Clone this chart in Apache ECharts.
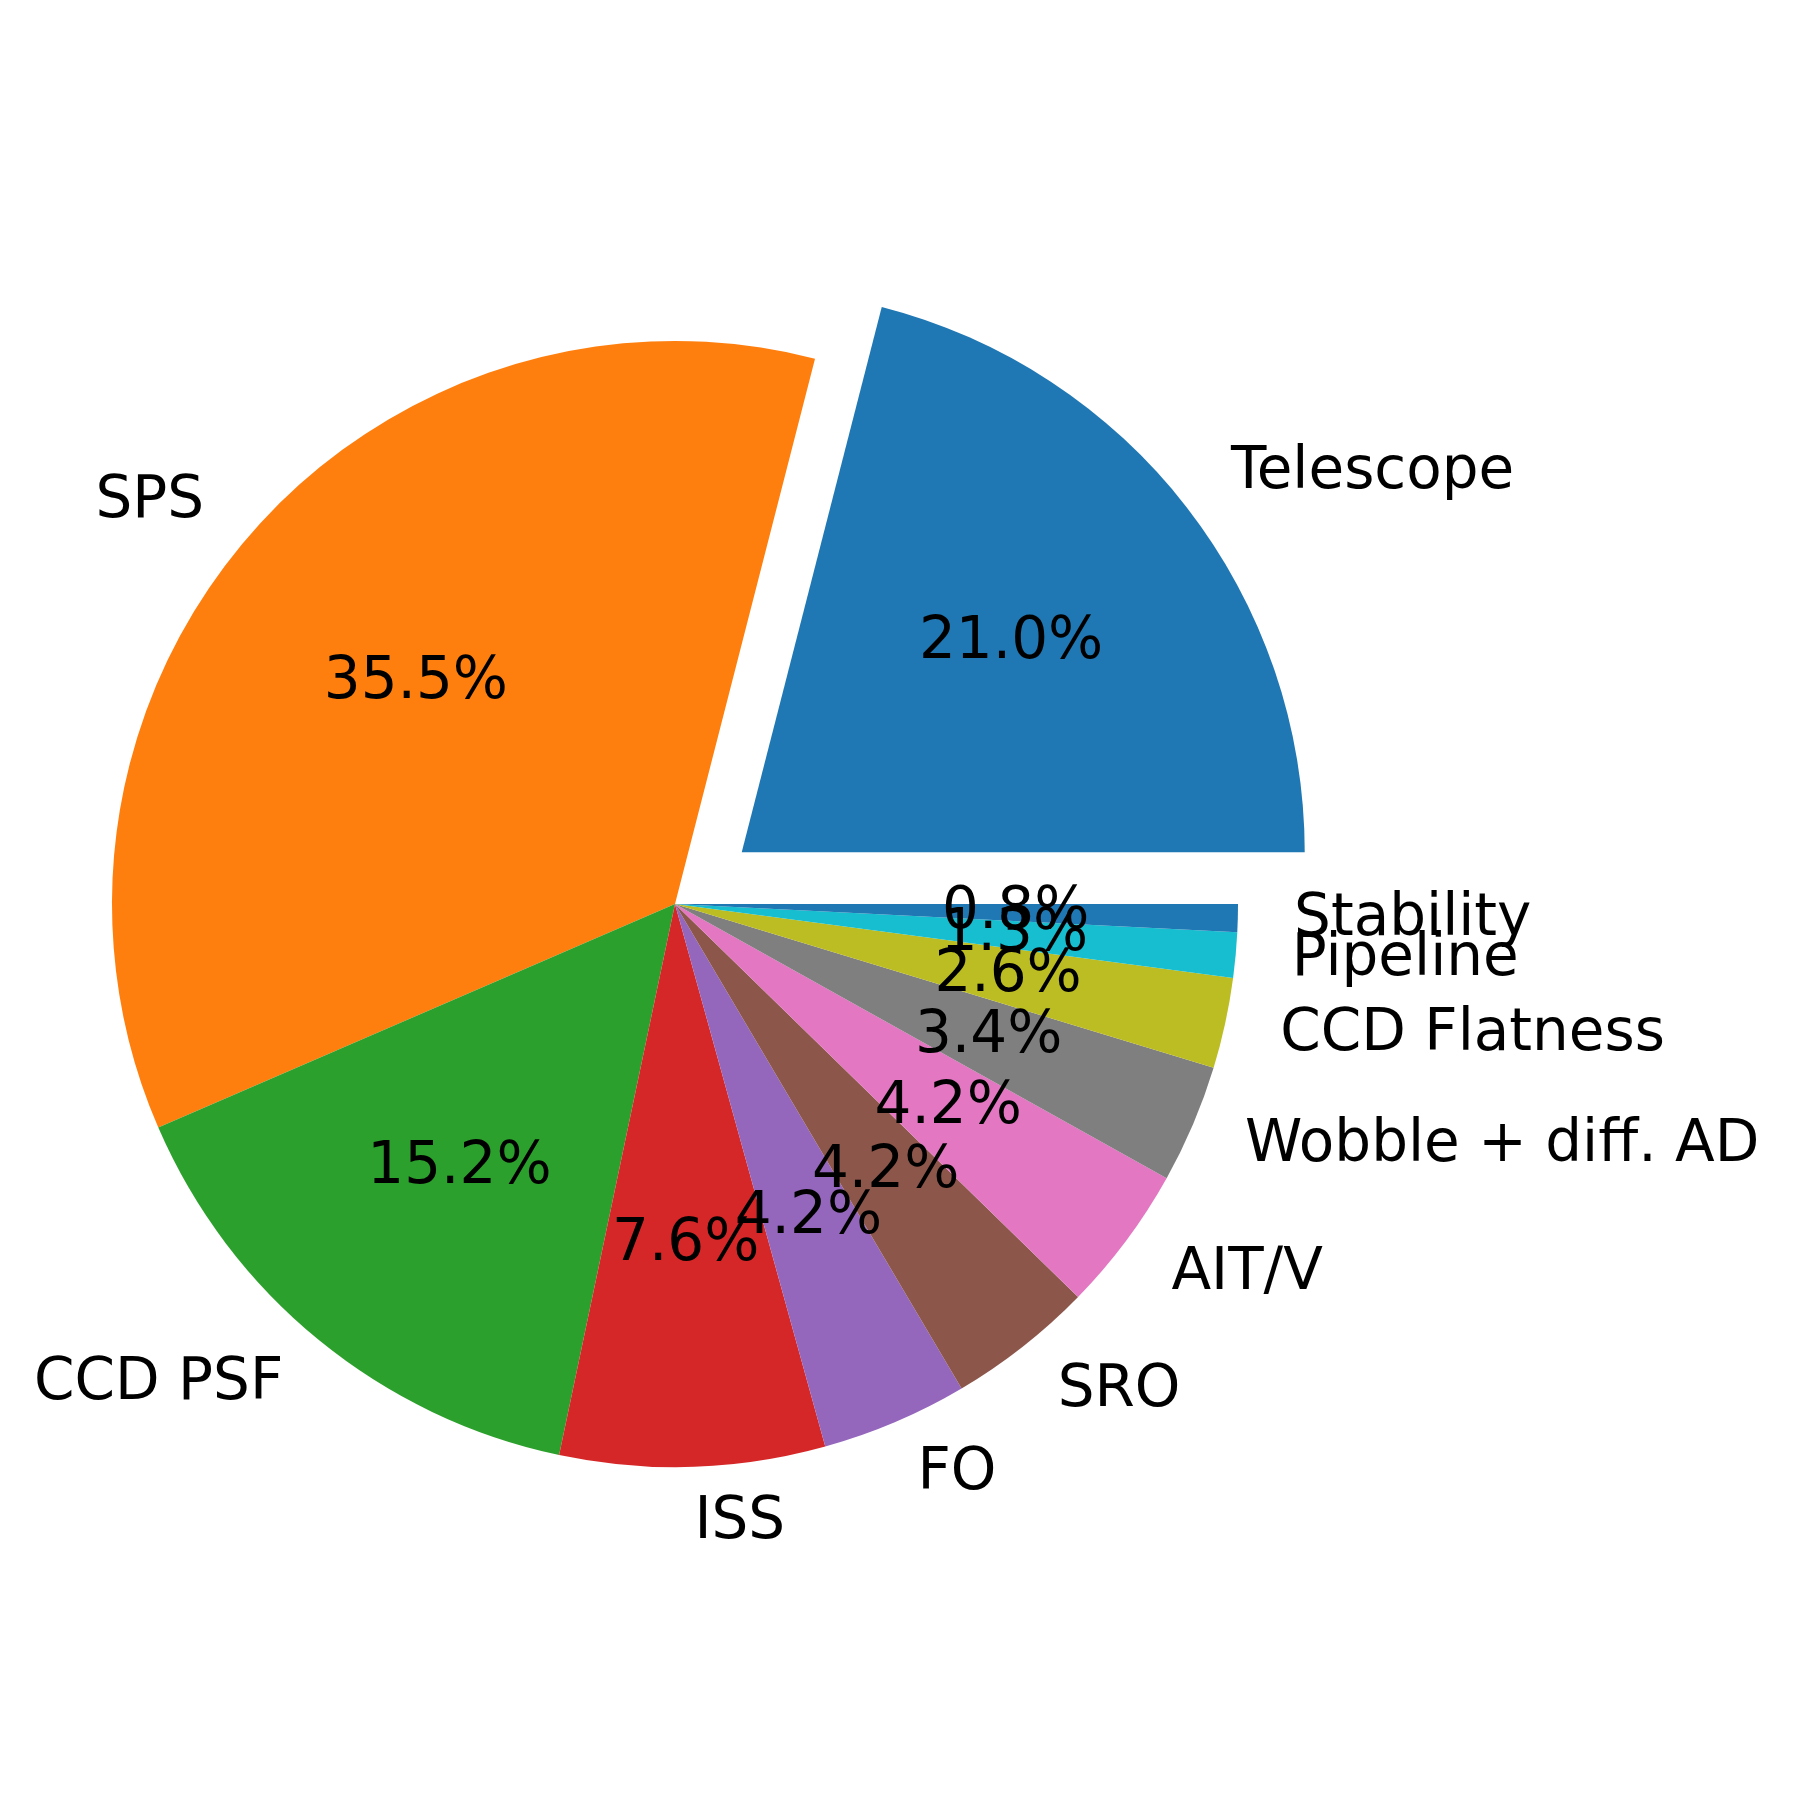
<!DOCTYPE html>
<html>
<head>
<meta charset="utf-8">
<script src="https://cdn.jsdelivr.net/npm/echarts@6/dist/echarts.min.js"></script>
<style>
  html, body { margin: 0; padding: 0; background: #ffffff; }
  #budget { width: 1800px; height: 1800px; }
</style>
</head>
<body>
<div id="budget"></div>
<script>
// error budget shares (percent), matplotlib order: counter-clockwise from 3 o'clock
var labels = ['Telescope', 'SPS', 'CCD PSF', 'ISS', 'FO', 'SRO', 'AIT/V',
              'Wobble + diff. AD', 'CCD Flatness', 'Pipeline', 'Stability'];
var shares = [21.0, 35.5, 15.2, 7.6, 4.2, 4.2, 4.2, 3.4, 2.6, 1.3, 0.8];
// tab10 cycle, wraps for the 11th slice
var colors = ['#1f77b4', '#ff7f0e', '#2ca02c', '#d62728', '#9467bd', '#8c564b',
              '#e377c2', '#7f7f7f', '#bcbd22', '#17becf', '#1f77b4'];
var explodedName = 'Telescope';

var R = 563;              // pie radius in px
var CENTER = [675, 904];
var OFFSET = 0.15 * R;    // explode

var font = { fontFamily: 'DejaVu Sans', fontSize: 58, color: '#000000' };

function buildData(withColor) {
    return labels.map(function (name, i) {
        return {
            name: name,
            value: shares[i],
            selected: name === explodedName,
            itemStyle: { color: withColor ? colors[i] : 'rgba(0,0,0,0)' }
        };
    });
}

var myChart = echarts.init(document.getElementById('budget'));
var option = {
    animation: false,
    backgroundColor: '#ffffff',
    series: [
        {
            // the wedges + outer name labels (at 1.1 r)
            type: 'pie',
            center: CENTER,
            radius: R,
            startAngle: 0,
            clockwise: false,
            avoidLabelOverlap: false,
            selectedMode: 'multiple',
            selectedOffset: OFFSET,
            silent: true,
            itemStyle: { borderWidth: 0 },
            select: { itemStyle: { borderWidth: 0 } },
            label: Object.assign({
                show: true,
                position: 'outside',
                distanceToLabelLine: 0,
                overflow: 'none',
                formatter: '{b}'
            }, font),
            labelLine: { show: false, length: 0.1 * R, length2: 0 },
            labelLayout: { hideOverlap: false },
            data: buildData(true)
        },
        {
            // invisible 1.2 r ring, so 'inside' labels land at 0.6 r
            type: 'pie',
            center: CENTER,
            radius: 1.2 * R,
            startAngle: 0,
            clockwise: false,
            avoidLabelOverlap: false,
            selectedMode: 'multiple',
            selectedOffset: OFFSET,
            silent: true,
            itemStyle: { borderWidth: 0 },
            select: { itemStyle: { borderWidth: 0 } },
            label: Object.assign({
                show: true,
                position: 'inside',
                formatter: function (p) { return p.value.toFixed(1) + '%'; }
            }, font),
            labelLine: { show: false },
            labelLayout: { hideOverlap: false },
            data: buildData(false)
        }
    ]
};

if (option && typeof option === 'object') {
    myChart.setOption(option, true);
}
</script>
</body>
</html>
